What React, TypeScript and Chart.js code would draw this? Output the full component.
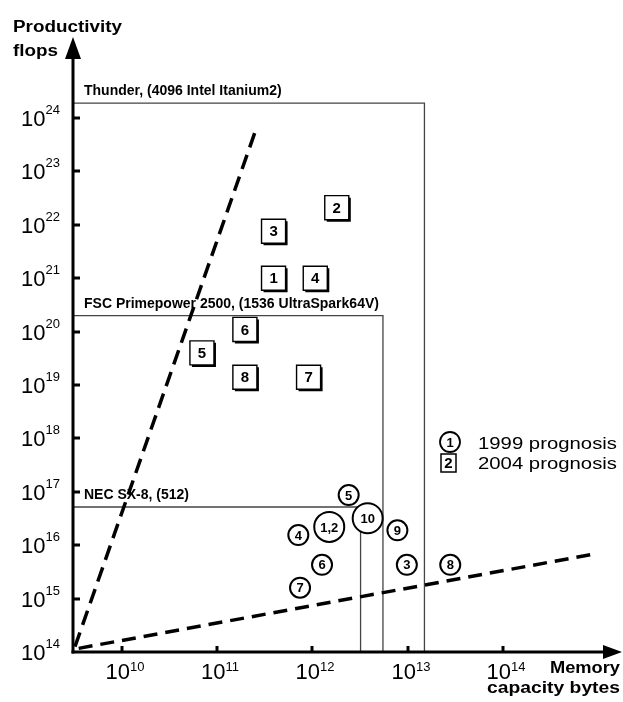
import React, { useEffect, useRef } from 'react';
import { Chart, registerables } from 'chart.js';

Chart.register(...registerables);

// ---- Data ----
const CIRCLE_LABELS = ['4', '7', '6', '1,2', '5', '10', '9', '3', '8'];
const CIRCLE_MEMORY = [7.1e11, 7.4e11, 1.26e12, 1.5e12, 2.4e12, 3.8e12, 7.8e12, 9.8e12, 2.8e13];
const CIRCLE_FLOPS = [1.55e16, 1.6e15, 4.3e15, 2.2e16, 8.7e16, 3.2e16, 1.9e16, 4.3e15, 4.3e15];

const SQUARE_LABELS = ['2', '3', '1', '4', '6', '5', '8', '7'];
const SQUARE_MEMORY = [1.8e12, 3.9e11, 3.9e11, 1.07e12, 1.95e11, 6.9e10, 1.95e11, 9.1e11];
const SQUARE_FLOPS = [2.1e22, 7.6e21, 1e21, 1e21, 1.1e20, 4e19, 1.4e19, 1.4e19];

const SYSTEM_NAMES = [
  'Thunder, (4096 Intel Itanium2)',
  'FSC Primepower 2500, (1536 UltraSpark64V)',
  'NEC SX-8, (512)',
];
const SYSTEM_MEMORY = [1.5e13, 5.5e12, 3.2e12];
const SYSTEM_FLOPS = [1.9e24, 2.0e20, 5.2e16];

const STEEP_MEMORY = [3.2e9, 2.6e11];
const STEEP_FLOPS = [1.26e14, 6.8e23];
const FLAT_MEMORY = [3.5e9, 8.9e14];
const FLAT_FLOPS = [1.17e14, 6.8e15];

const X_MIN = 3.05e9;
const X_MAX = 1.7e15;
const Y_MIN = 1e14;
const Y_MAX = 2.9e25;

const X_TICKS = [1e10, 1e11, 1e12, 1e13, 1e14];
const X_TICK_EXP = ['10', '11', '12', '13', '14'];
const Y_TICKS = [1e14, 1e15, 1e16, 1e17, 1e18, 1e19, 1e20, 1e21, 1e22, 1e23, 1e24];
const Y_TICK_EXP = ['14', '15', '16', '17', '18', '19', '20', '21', '22', '23', '24'];

const Y_TITLE = ['Productivity', 'flops'];
const X_TITLE = ['Memory', 'capacity bytes'];
const LEGEND_TEXT = ['1999 prognosis', '2004 prognosis'];

// ---- Styles ----
const FONT = '"Liberation Sans", Arial, Helvetica, sans-serif';
const SQUARE_RADIUS = 17;

function drawText(
  ctx: CanvasRenderingContext2D,
  s: string,
  x: number,
  y: number,
  font: string,
  width?: number,
  align: 'left' | 'center' | 'right' = 'left',
  baseline: CanvasTextBaseline = 'alphabetic'
) {
  ctx.save();
  ctx.font = font;
  const m = ctx.measureText(s).width;
  const sx = width ? width / m : 1;
  const w = m * sx;
  let x0 = x;
  if (align === 'center') x0 = x - w / 2;
  else if (align === 'right') x0 = x - w;
  ctx.translate(x0, y);
  ctx.scale(sx, 1);
  ctx.textAlign = 'left';
  ctx.textBaseline = baseline;
  ctx.fillStyle = '#000';
  ctx.fillText(s, 0, 0);
  ctx.restore();
}

const overlayPlugin = {
  id: 'overlay',
  afterDatasetsDraw(chart: any) {
    const ctx: CanvasRenderingContext2D = chart.ctx;
    const ys = chart.scales.y;
    const area = chart.chartArea;

    // system labels above their lines
    SYSTEM_NAMES.forEach((name, i) => {
      const py = ys.getPixelForValue(SYSTEM_FLOPS[i]);
      drawText(ctx, name, area.left + 11, py - 8, `bold 14px ${FONT}`);
    });

    // square shadows + labels
    const sq = chart.getDatasetMeta(1);
    const half = SQUARE_RADIUS * Math.SQRT1_2;
    sq.data.forEach((pt: any, i: number) => {
      ctx.save();
      ctx.strokeStyle = '#000';
      ctx.lineWidth = 2;
      ctx.beginPath();
      ctx.moveTo(pt.x - half + 2, pt.y + half + 1);
      ctx.lineTo(pt.x + half + 1, pt.y + half + 1);
      ctx.lineTo(pt.x + half + 1, pt.y - half + 2);
      ctx.stroke();
      ctx.restore();
      drawText(ctx, SQUARE_LABELS[i], pt.x, pt.y + 1, `bold 15px ${FONT}`, undefined, 'center', 'middle');
    });

    // circle labels
    const ci = chart.getDatasetMeta(0);
    ci.data.forEach((pt: any, i: number) => {
      drawText(ctx, CIRCLE_LABELS[i], pt.x, pt.y + 1, `bold 13px ${FONT}`, undefined, 'center', 'middle');
    });
  },
  afterDraw(chart: any) {
    const ctx: CanvasRenderingContext2D = chart.ctx;
    const xs = chart.scales.x;
    const ys = chart.scales.y;
    const area = chart.chartArea;
    const ox = area.left;
    const oy = area.bottom;

    ctx.save();
    ctx.strokeStyle = '#000';
    ctx.fillStyle = '#000';
    ctx.lineWidth = 3;
    // y axis
    ctx.beginPath();
    ctx.moveTo(ox, oy + 1.5);
    ctx.lineTo(ox, area.top + 18);
    ctx.stroke();
    ctx.beginPath();
    ctx.moveTo(ox, area.top - 3);
    ctx.lineTo(ox - 8, area.top + 19);
    ctx.lineTo(ox + 8, area.top + 19);
    ctx.closePath();
    ctx.fill();
    // x axis
    ctx.beginPath();
    ctx.moveTo(ox - 1.5, oy);
    ctx.lineTo(area.right - 16, oy);
    ctx.stroke();
    ctx.beginPath();
    ctx.moveTo(area.right + 2, oy);
    ctx.lineTo(area.right - 17, oy - 7);
    ctx.lineTo(area.right - 17, oy + 7);
    ctx.closePath();
    ctx.fill();

    // y ticks
    Y_TICKS.forEach((v, i) => {
      const py = Math.round(ys.getPixelForValue(v));
      if (i > 0) {
        ctx.beginPath();
        ctx.moveTo(ox, py);
        ctx.lineTo(ox + 7, py);
        ctx.stroke();
      }
      ctx.font = `13px ${FONT}`;
      const ew = ctx.measureText(Y_TICK_EXP[i]).width;
      const right = ox - 13;
      drawText(ctx, Y_TICK_EXP[i], right, py - 4, `13px ${FONT}`, undefined, 'right');
      drawText(ctx, '10', right - ew, py + 8, `22px ${FONT}`, undefined, 'right');
    });

    // x ticks
    X_TICKS.forEach((v, i) => {
      const px = Math.round(xs.getPixelForValue(v));
      ctx.beginPath();
      ctx.moveTo(px, oy);
      ctx.lineTo(px, oy - 6);
      ctx.stroke();
      ctx.font = `22px ${FONT}`;
      const mw = ctx.measureText('10').width;
      ctx.font = `13px ${FONT}`;
      const ew = ctx.measureText(X_TICK_EXP[i]).width;
      const start = px - (mw + ew) / 2 + 3;
      drawText(ctx, '10', start, oy + 27, `22px ${FONT}`);
      drawText(ctx, X_TICK_EXP[i], start + mw, oy + 19, `13px ${FONT}`);
    });
    ctx.restore();

    // axis titles
    drawText(ctx, Y_TITLE[0], 13, 32, `bold 16px ${FONT}`, 109);
    drawText(ctx, Y_TITLE[1], 13, 56, `bold 16px ${FONT}`, 45);
    drawText(ctx, X_TITLE[0], 620, 673, `bold 17px ${FONT}`, 70, 'right');
    drawText(ctx, X_TITLE[1], 620, 693, `bold 17px ${FONT}`, 133, 'right');

    // legend
    ctx.save();
    ctx.strokeStyle = '#000';
    ctx.fillStyle = '#fff';
    ctx.lineWidth = 1.8;
    ctx.beginPath();
    ctx.arc(450, 442, 10, 0, Math.PI * 2);
    ctx.fill();
    ctx.stroke();
    ctx.lineWidth = 1.5;
    ctx.fillRect(441, 454, 15, 18);
    ctx.strokeRect(441, 454, 15, 18);
    ctx.restore();
    drawText(ctx, '1', 450, 443, `bold 13px ${FONT}`, undefined, 'center', 'middle');
    drawText(ctx, '2', 448.5, 464, `bold 15px ${FONT}`, undefined, 'center', 'middle');
    drawText(ctx, LEGEND_TEXT[0], 478, 449, `17px ${FONT}`, 139);
    drawText(ctx, LEGEND_TEXT[1], 478, 469, `17px ${FONT}`, 139);
  },
};

export default function App() {
  const canvasRef = useRef<HTMLCanvasElement | null>(null);

  useEffect(() => {
    const canvas = canvasRef.current;
    if (!canvas) return;

    const systemDatasets = SYSTEM_NAMES.map((name, i) => ({
      label: name,
      data: [
        { x: X_MIN, y: SYSTEM_FLOPS[i] },
        { x: SYSTEM_MEMORY[i], y: SYSTEM_FLOPS[i] },
        { x: SYSTEM_MEMORY[i], y: Y_MIN },
      ],
      showLine: true,
      borderColor: '#444',
      borderWidth: 1.3,
      pointRadius: 0,
      fill: false,
      order: 5,
    }));

    const chart = new Chart(canvas, {
      type: 'scatter',
      data: {
        datasets: [
          {
            label: '1999 prognosis',
            data: CIRCLE_MEMORY.map((x, i) => ({ x, y: CIRCLE_FLOPS[i] })),
            pointStyle: 'circle',
            pointRadius: (c: any) => (CIRCLE_LABELS[c.dataIndex]?.length > 1 ? 15 : 10),
            backgroundColor: '#fff',
            borderColor: '#000',
            borderWidth: 2,
            order: 0,
          },
          {
            label: '2004 prognosis',
            data: SQUARE_MEMORY.map((x, i) => ({ x, y: SQUARE_FLOPS[i] })),
            pointStyle: 'rect',
            pointRadius: SQUARE_RADIUS,
            backgroundColor: '#fff',
            borderColor: '#000',
            borderWidth: 1.4,
            order: 1,
          },
          {
            label: 'steep trend',
            data: STEEP_MEMORY.map((x, i) => ({ x, y: STEEP_FLOPS[i] })),
            showLine: true,
            borderColor: '#000',
            borderWidth: 3.5,
            borderDash: [15, 8],
            pointRadius: 0,
            order: 3,
          },
          {
            label: 'flat trend',
            data: FLAT_MEMORY.map((x, i) => ({ x, y: FLAT_FLOPS[i] })),
            showLine: true,
            borderColor: '#000',
            borderWidth: 3.5,
            borderDash: [14, 8],
            pointRadius: 0,
            order: 3,
          },
          ...systemDatasets,
        ],
      } as any,
      options: {
        responsive: false,
        maintainAspectRatio: false,
        devicePixelRatio: 1,
        animation: false,
        layout: { autoPadding: false, padding: { left: 73, right: 3, top: 40, bottom: 50 } },
        plugins: {
          legend: { display: false },
          tooltip: { enabled: false },
          title: { display: false },
        },
        scales: {
          x: { type: 'logarithmic', min: X_MIN, max: X_MAX, display: false, bounds: 'data' },
          y: { type: 'logarithmic', min: Y_MIN, max: Y_MAX, display: false, bounds: 'data' },
        },
      } as any,
      plugins: [overlayPlugin],
    });

    return () => chart.destroy();
  }, []);

  return (
    <div style={{ position: 'absolute', left: 0, top: 0, width: 623, height: 702, background: '#fff' }}>
      <canvas ref={canvasRef} width={623} height={702} style={{ display: 'block' }} />
    </div>
  );
}
